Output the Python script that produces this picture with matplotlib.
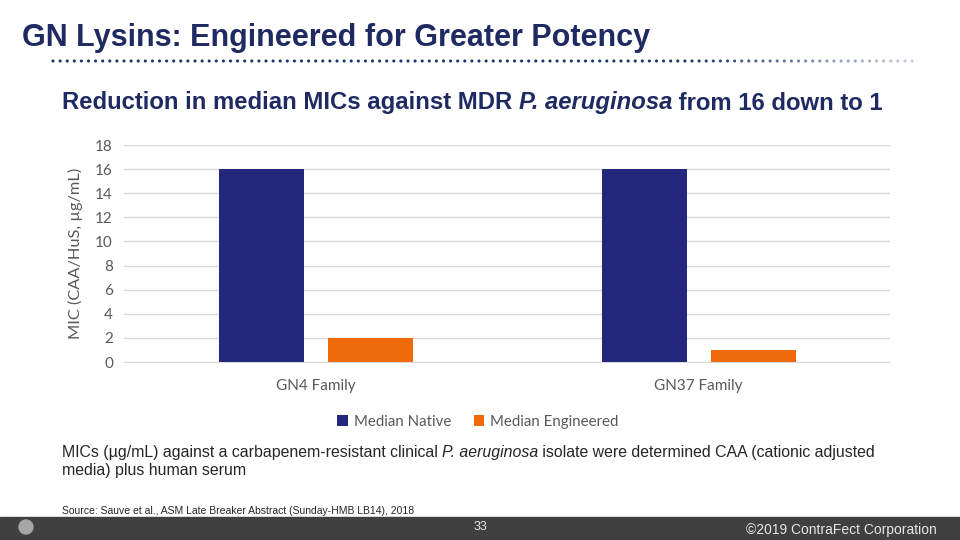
import numpy as np
import matplotlib
matplotlib.use('Agg')
import matplotlib.pyplot as plt
from matplotlib.patches import Rectangle, Circle

# data
families = ['GN4 Family', 'GN37 Family']
native = [16, 16]
engineered = [2, 1]
series_names = ['Median Native', 'Median Engineered']
yticks = [0, 2, 4, 6, 8, 10, 12, 14, 16, 18]

navy = '#1F2A63'
bar_navy = '#23287D'
bar_orange = '#EE6A0A'
gray_txt = '#595959'

fig = plt.figure(figsize=(9.6, 5.4), dpi=100)
fig.patch.set_facecolor('white')
renderer = fig.canvas.get_renderer()


def runs(x0, y0, parts, **kw):
    '''draw text pieces one after another (px coords from top-left)'''
    x = x0 / 960
    for txt, style in parts:
        t = fig.text(x, 1 - y0 / 540, txt, style=style, va='center', ha='left', **kw)
        bb = t.get_window_extent(renderer)
        x = bb.x1 / fig.bbox.width
    return x


# background layer for decorations
bg = fig.add_axes([0, 0, 1, 1], zorder=-1)
bg.set_xlim(0, 960)
bg.set_ylim(540, 0)
bg.axis('off')

# title + dotted rule
fig.text(22/960, 1-38/540, 'GN Lysins: Engineered for Greater Potency',
         fontsize=22, fontweight='bold', color=navy, family='Liberation Sans',
         va='center', ha='left')
xs = np.arange(53, 916, 7.1)
alpha = np.clip(1 - (xs - 690) / 290, 0.2, 1.0)
cols = np.zeros((len(xs), 4))
cols[:, :3] = matplotlib.colors.to_rgb('#1F3566')
cols[:, 3] = alpha
bg.scatter(xs, np.full_like(xs, 61.0), s=5, c=cols, lw=0)

runs(62, 103, [('Reduction in median MICs against MDR ', 'normal'),
               ('P. aeruginosa', 'italic'),
               (' from 16 down to 1', 'normal')],
     fontsize=17.2, fontweight='bold', color=navy, family='Liberation Sans')

# chart
ax = fig.add_axes([124/960, (540-362)/540, 766/960, 217/540])
x = np.arange(len(families)) + 0.5
w = 0.222
ax.bar(x - 0.141, native, w, color=bar_navy, label=series_names[0], zorder=3)
ax.bar(x + 0.144, engineered, w, color=bar_orange, label=series_names[1], zorder=3)
ax.set_xlim(0, len(families))
ax.set_ylim(0, 18)
ax.set_yticks(yticks)
ax.set_xticks(x)
ax.set_xticklabels(families)
ax.grid(axis='y', color='#D9D9D9', lw=1, zorder=0)
for s in ['top', 'right', 'left']:
    ax.spines[s].set_visible(False)
ax.spines['bottom'].set_color('#D9D9D9')
ax.tick_params(length=0, labelsize=11, labelcolor=gray_txt, pad=8)
ax.tick_params(axis='x', pad=12)
for lab in ax.get_xticklabels() + ax.get_yticklabels():
    lab.set_family('Lato')
ax.set_ylabel('MIC (CAA/HuS, µg/mL)', fontsize=11.8, color=gray_txt, family='Lato', labelpad=9)
leg = ax.legend(loc='upper center', bbox_to_anchor=(0.462, -0.18), ncol=2, frameon=False,
                prop={'family': 'Lato', 'size': 10.8}, handlelength=0.7, handleheight=0.7,
                columnspacing=1.5, handletextpad=0.4)
for t in leg.get_texts():
    t.set_color(gray_txt)

# notes
note_kw = dict(fontsize=11.4, color='#262626', family='Liberation Sans')
runs(62, 452, [('MICs (µg/mL) against a carbapenem-resistant clinical ', 'normal'),
               ('P. aeruginosa', 'italic'),
               (' isolate were determined CAA (cationic adjusted', 'normal')], **note_kw)
runs(62, 470, [('media) plus human serum', 'normal')], **note_kw)
fig.text(62/960, 1-511/540, 'Source: Sauve et al., ASM Late Breaker Abstract (Sunday-HMB LB14), 2018',
         fontsize=7.5, color='#262626', family='Liberation Sans', va='center')

# footer
bg.add_patch(Rectangle((0, 517), 960, 23, color='#404040', zorder=0))
bg.add_patch(Circle((26, 527), 7, color='#A6A6A6', zorder=1))
fig.text(480/960, 1-527/540, '33', fontsize=9, color='#E6E6E6',
         family='Liberation Sans', ha='center', va='center')
fig.text(937/960, 1-530/540, '©2019 ContraFect Corporation', fontsize=10, color='#E6E6E6',
         family='Liberation Sans', ha='right', va='center')

fig.savefig('out.png', dpi=100)
